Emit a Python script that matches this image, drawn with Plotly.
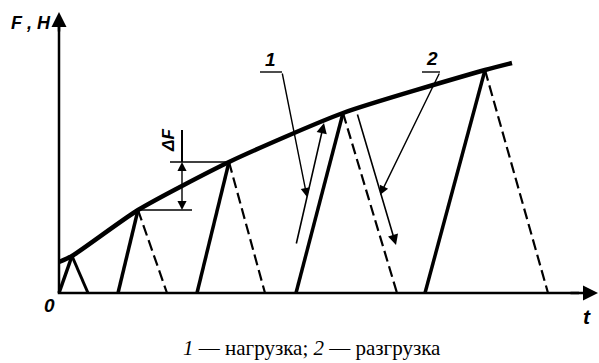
import plotly.graph_objects as go

# loading / unloading cycles (t, F in arbitrary units)
t_start = [0.0, 5.9, 13.8, 23.7, 36.6]
t_peak = [1.3, 7.9, 17.0, 28.4, 42.6]
f_peak = [3.7, 8.3, 13.1, 18.0, 22.3]
t_end = [2.9, 10.8, 20.6, 33.8, 48.9]

# envelope curve
env_t = [0.0, 1.3, 7.9, 17.0, 28.4, 42.6, 45.3]
env_f = [3.1, 3.7, 8.3, 13.1, 18.0, 22.3, 23.0]

# annotation geometry
df_top = [11.1, 17.0, 13.1]      # t0, t1, F
df_bot = [7.9, 13.3, 8.3]
df_x = 12.3
df_ext = 16.3
lead1 = [20.1, 22.3, 22.1, 24.8, 9.6]   # t0, t1, F, tip t, tip F
lead2 = [38.1, 36.3, 22.1, 32.1, 9.8]
load_arrow = [23.7, 4.8, 26.5, 17.0]    # tail t, tail F, tip t, tip F
unload_arrow = [29.8, 18.0, 33.7, 4.8]

fig = go.Figure()

# envelope
fig.add_trace(go.Scatter(x=env_t, y=env_f, mode="lines",
                         line=dict(color="black", width=4.5, shape="spline", smoothing=0.6)))

# cycles
for i in range(len(t_peak)):
    fig.add_trace(go.Scatter(x=[t_start[i], t_peak[i]], y=[0, f_peak[i]], mode="lines",
                             line=dict(color="black", width=3.5)))
    fig.add_trace(go.Scatter(x=[t_peak[i], t_end[i]], y=[f_peak[i], 0], mode="lines",
                             line=dict(color="black", width=3 if i == 0 else 2.2,
                                       dash="solid" if i == 0 else "11px,5px")))

# axes
fig.add_trace(go.Scatter(x=[0, 0, 52], y=[27, 0, 0], mode="lines",
                         line=dict(color="black", width=2.5)))

# thin lines
thin = dict(color="black", width=1.4)
fig.add_trace(go.Scatter(x=[df_top[0], df_top[1]], y=[df_top[2], df_top[2]], mode="lines", line=thin))
fig.add_trace(go.Scatter(x=[df_bot[0], df_bot[1]], y=[df_bot[2], df_bot[2]], mode="lines", line=thin))
fig.add_trace(go.Scatter(x=[df_x, df_x], y=[df_top[2], df_ext], mode="lines", line=dict(color="black", width=2)))
fig.add_trace(go.Scatter(x=[lead1[0], lead1[1]], y=[lead1[2], lead1[2]], mode="lines", line=thin))
fig.add_trace(go.Scatter(x=[lead2[0], lead2[1]], y=[lead2[2], lead2[2]], mode="lines", line=thin))


def arrow(tail_t, tail_f, tip_t, tip_f, width=1.4, size=1.3, head=2):
    fig.add_annotation(x=tip_t, y=tip_f, ax=tail_t, ay=tail_f, xref="x", yref="y",
                       axref="x", ayref="y", text="", showarrow=True,
                       arrowhead=head, arrowsize=size, arrowwidth=width, arrowcolor="black")


arrow(0, 26, 0, 28.1, width=2.5, size=1.2)
arrow(51, 0, 53.9, 0, width=2.5, size=1.2)
arrow(df_x, (df_top[2] + df_bot[2]) / 2, df_x, df_top[2])
arrow(df_x, (df_top[2] + df_bot[2]) / 2, df_x, df_bot[2])
arrow(lead1[1], lead1[2], lead1[3], lead1[4])
arrow(lead2[0], lead2[2], lead2[3], lead2[4])
arrow(*load_arrow, width=1.6)
arrow(*unload_arrow, width=1.6)

lab = dict(family="Liberation Sans", size=19, color="black")
fig.add_annotation(x=-2.8, y=27.0, text="<i><b>F , H</b></i>", showarrow=False, font=dict(lab, size=18))
fig.add_annotation(x=-1.0, y=-1.2, text="<i><b>0</b></i>", showarrow=False, font=lab)
fig.add_annotation(x=52.8, y=-2.3, text="<i><b>t</b></i>", showarrow=False, font=dict(lab, size=21))
fig.add_annotation(x=21.1, y=23.4, text="<i><b>1</b></i>", showarrow=False, font=lab)
fig.add_annotation(x=37.3, y=23.5, text="<i><b>2</b></i>", showarrow=False, font=lab)
fig.add_annotation(x=10.9, y=15.2, text="<i><b>ΔF</b></i>", showarrow=False, font=dict(lab, size=17),
                   textangle=-90)
fig.add_annotation(x=0.521, y=0.041, xref="paper", yref="paper", yanchor="middle",
                   showarrow=False,
                   text="<i>1</i> — нагрузка; <i>2</i> — разгрузка",
                   font=dict(family="Liberation Serif", size=21, color="black"))

fig.update_layout(width=599, height=363, margin=dict(l=0, r=0, t=0, b=0),
                  plot_bgcolor="white", paper_bgcolor="white", showlegend=False)
fig.update_xaxes(range=[-5.9, 54.0], visible=False)
fig.update_yaxes(range=[-7.0, 29.3], visible=False)
fig.write_html("out.html", config={"displayModeBar": False},
               post_script="document.body.style.margin='0';")
